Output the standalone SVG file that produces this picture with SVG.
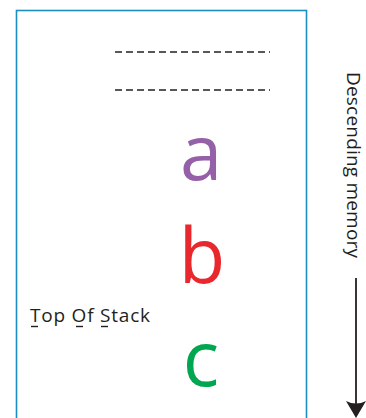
<svg xmlns="http://www.w3.org/2000/svg" width="366" height="418" viewBox="0 0 366 418">
<style>
.big{font-family:"Open Sans","Noto Sans",sans-serif;font-size:76px;text-anchor:middle}
.lbl{font-family:"Open Sans","Noto Sans",sans-serif;font-size:19px;fill:#231f20}
.dash{stroke:#231f20;stroke-width:1.5;stroke-dasharray:7 4;fill:none}
.ul{stroke:#231f20;stroke-width:1.4}
</style>
<rect id="memory" x="16.5" y="10.5" width="290" height="420" fill="#fff" stroke="#1b8fc4" stroke-width="1.6"/>
<g id="slots">
<line class="dash" x1="115" y1="52" x2="270" y2="52"/>
<line class="dash" x1="115" y1="90" x2="270" y2="90"/>
</g>
<g id="a"><text class="big" x="201" y="180" fill="#9560a8">a</text></g>
<g id="b"><text class="big" x="202" y="283" fill="#e8282c">b</text></g>
<g id="c"><text class="big" x="201" y="386" fill="#00a650">c</text></g>
<g id="tos">
<text class="lbl" x="30" y="322" textLength="120">Top Of Stack</text>
<line class="ul" x1="31" y1="326.5" x2="38" y2="326.5"/>
<line class="ul" x1="76" y1="326.5" x2="83" y2="326.5"/>
<line class="ul" x1="101" y1="326.5" x2="108" y2="326.5"/>
</g>
<g id="desc">
<text class="lbl" transform="translate(347,72) rotate(90)" x="0" y="0" textLength="186">Descending memory</text>
</g>
<g id="connectors">
<line x1="356" y1="278" x2="356" y2="408" stroke="#231f20" stroke-width="1.8"/>
<path d="M356 418 L346 401 Q356 406 366 401 Z" fill="#231f20"/>
</g>
</svg>
